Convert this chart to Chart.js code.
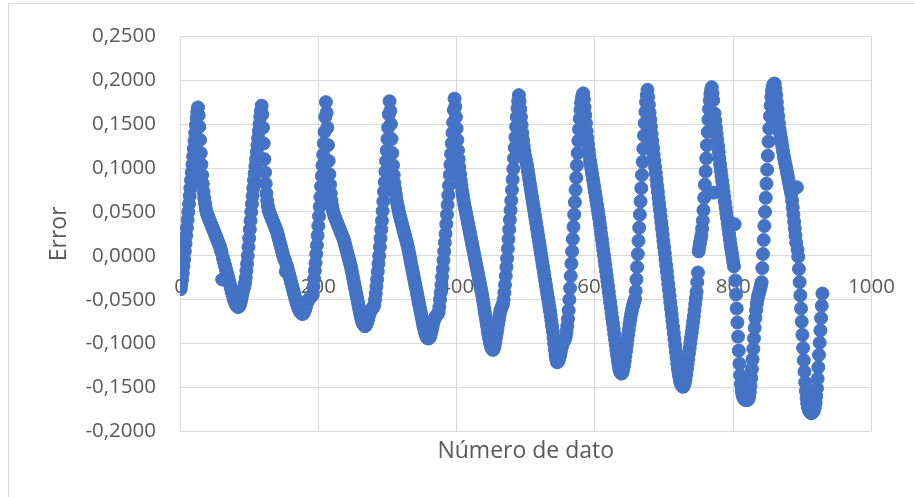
<!DOCTYPE html>
<html lang="es">
<head>
<meta charset="utf-8">
<title>Error por número de dato</title>
<script src="https://cdn.jsdelivr.net/npm/chart.js@4.4.1/dist/chart.umd.min.js"></script>
<style>
  html, body { margin: 0; padding: 0; background: #ffffff; }
  #frame { position: relative; width: 914px; height: 497px; overflow: hidden; background: #ffffff; }
  #border { position: absolute; left: 8px; top: 3px; width: 940px; height: 540px; border: 1px solid #d9d9d9; box-sizing: border-box; }
  #chart { position: absolute; left: 0; top: 0; }
</style>
</head>
<body>
<div id="frame">
  <div id="border"></div>
  <canvas id="chart" width="914" height="497"></canvas>
</div>
<script>
// Error of each data point, in order (data number 1, 2, 3, ...)
const errorValues = [
  -0.038,-0.033,-0.027,-0.020,-0.012,-0.004,0.005,0.014,0.023,0.032,
  0.041,0.050,0.059,0.068,0.077,0.086,0.095,0.104,0.113,0.122,
  0.131,0.140,0.149,0.157,0.164,0.169,
  0.160,0.147,0.132,0.117,0.104,0.092,0.082,0.073,0.066,0.060,
  0.055,0.051,0.048,0.046,0.044,0.042,0.040,0.038,0.036,0.034,
  0.032,0.030,0.028,0.026,0.024,0.022,0.020,0.018,0.016,0.014,
  0.012,0.010,0.007,0.004,-0.027,-0.002,-0.005,-0.008,-0.011,-0.014,
  -0.017,-0.020,-0.023,-0.026,-0.029,-0.032,-0.035,-0.038,-0.041,-0.044,
  -0.047,-0.050,-0.052,-0.054,-0.056,-0.057,-0.058,-0.058,
  -0.058,-0.057,-0.055,-0.052,-0.048,-0.044,-0.040,-0.037,-0.035,-0.031,
  -0.025,-0.017,-0.009,0.000,0.010,0.020,0.030,0.040,0.050,0.059,
  0.068,0.077,0.086,0.094,0.102,0.110,0.118,0.126,0.134,0.142,
  0.150,0.158,0.165,0.171,
  0.161,0.146,0.128,0.110,0.095,0.082,0.071,0.063,0.057,0.053,
  0.050,0.048,0.046,0.044,0.042,0.040,0.038,0.036,0.034,0.032,
  0.030,0.028,0.025,0.022,0.019,0.016,0.013,0.010,0.007,0.004,
  0.001,-0.002,-0.004,-0.006,-0.018,-0.010,-0.013,-0.016,-0.019,-0.022,
  -0.025,-0.028,-0.031,-0.034,-0.037,-0.040,-0.043,-0.046,-0.049,-0.052,
  -0.055,-0.057,-0.059,-0.061,-0.063,-0.064,-0.065,-0.066,-0.066,
  -0.066,-0.065,-0.063,-0.061,-0.058,-0.055,-0.053,-0.051,-0.050,-0.049,
  -0.048,-0.047,-0.046,-0.045,
  -0.044,-0.035,-0.026,-0.017,-0.008,0.002,0.012,0.023,0.034,0.045,
  0.056,0.067,0.079,0.091,0.103,0.115,0.128,0.141,0.158,0.175,
  0.163,0.146,0.126,0.108,0.093,0.081,0.071,0.063,0.057,0.052,
  0.049,0.046,0.044,0.042,0.040,0.038,0.036,0.034,0.032,0.030,
  0.028,0.026,0.024,0.022,0.020,0.018,0.015,0.012,0.009,0.006,
  0.003,0.000,-0.003,-0.006,-0.009,-0.012,-0.016,-0.020,-0.024,-0.028,
  -0.032,-0.036,-0.040,-0.044,-0.048,-0.052,-0.056,-0.060,-0.064,-0.068,
  -0.071,-0.074,-0.076,-0.078,-0.079,-0.080,
  -0.080,-0.079,-0.077,-0.075,-0.072,-0.069,-0.066,-0.064,-0.062,-0.061,
  -0.060,-0.059,-0.058,-0.056,-0.050,-0.043,-0.035,-0.027,-0.018,-0.009,
  0.000,0.010,0.020,0.030,0.040,0.051,0.062,0.073,0.084,0.096,
  0.108,0.120,0.133,0.146,0.161,0.176,
  0.165,0.150,0.133,0.117,0.103,0.092,0.083,0.076,0.070,0.065,
  0.060,0.056,0.052,0.048,0.045,0.042,0.039,0.036,0.033,0.030,
  0.027,0.024,0.021,0.018,0.015,0.012,0.008,0.004,0.000,-0.004,
  -0.008,-0.012,-0.016,-0.020,-0.024,-0.028,-0.032,-0.036,-0.040,-0.044,
  -0.048,-0.052,-0.056,-0.060,-0.064,-0.068,-0.072,-0.076,-0.080,-0.083,
  -0.086,-0.089,-0.091,-0.093,-0.094,-0.094,
  -0.094,-0.093,-0.091,-0.088,-0.085,-0.081,-0.077,-0.074,-0.072,-0.070,
  -0.069,-0.068,-0.067,-0.066,-0.064,-0.058,-0.050,-0.042,-0.033,-0.024,
  -0.015,-0.005,0.005,0.015,0.025,0.036,0.047,0.058,0.069,0.080,
  0.092,0.104,0.116,0.128,0.140,0.152,0.166,0.179,
  0.170,0.158,0.145,0.132,0.120,0.110,0.101,0.093,0.086,0.080,
  0.074,0.069,0.064,0.059,0.055,0.051,0.047,0.043,0.039,0.035,
  0.031,0.027,0.023,0.019,0.015,0.011,0.007,0.003,-0.001,-0.005,
  -0.009,-0.013,-0.017,-0.021,-0.025,-0.029,-0.033,-0.037,-0.041,-0.045,
  -0.050,-0.055,-0.060,-0.065,-0.070,-0.075,-0.080,-0.085,-0.090,-0.094,
  -0.098,-0.101,-0.104,-0.106,-0.107,
  -0.107,-0.105,-0.102,-0.098,-0.093,-0.088,-0.083,-0.078,-0.073,-0.068,
  -0.064,-0.061,-0.059,-0.057,-0.055,-0.050,-0.042,-0.033,-0.023,-0.013,
  -0.003,0.008,0.019,0.030,0.041,0.052,0.063,0.075,0.087,0.099,
  0.111,0.123,0.135,0.147,0.158,0.168,0.176,0.183,
  0.176,0.167,0.158,0.149,0.140,0.132,0.125,0.119,0.114,0.110,
  0.106,0.102,0.097,0.092,0.087,0.082,0.077,0.072,0.067,0.062,
  0.057,0.052,0.047,0.042,0.037,0.032,0.027,0.022,0.017,0.012,
  0.007,0.002,-0.003,-0.008,-0.013,-0.018,-0.023,-0.028,-0.033,-0.038,
  -0.043,-0.048,-0.053,-0.058,-0.063,-0.068,-0.074,-0.080,-0.086,-0.093,
  -0.100,-0.107,-0.113,-0.118,-0.121,
  -0.121,-0.120,-0.118,-0.115,-0.112,-0.108,-0.104,-0.101,-0.099,-0.097,
  -0.096,-0.094,-0.091,
  -0.086,-0.080,-0.072,-0.062,-0.050,-0.037,-0.023,-0.009,0.005,0.019,
  0.033,0.047,0.061,0.075,0.089,0.103,0.117,0.131,0.144,0.156,
  0.166,0.174,0.179,0.183,0.185,
  0.178,0.169,0.160,0.151,0.142,0.134,0.127,0.120,0.114,0.108,
  0.103,0.098,0.093,0.088,0.083,0.078,0.073,0.068,0.063,0.058,
  0.053,0.048,0.043,0.037,0.031,0.025,0.019,0.013,0.007,0.001,
  -0.005,-0.011,-0.017,-0.023,-0.029,-0.035,-0.041,-0.047,-0.053,-0.059,
  -0.065,-0.071,-0.077,-0.083,-0.089,-0.095,-0.101,-0.107,-0.113,-0.119,
  -0.124,-0.128,-0.131,-0.133,-0.134,
  -0.134,-0.132,-0.129,-0.125,-0.120,-0.114,-0.108,-0.102,-0.096,-0.090,
  -0.084,-0.078,-0.073,-0.068,-0.064,-0.060,-0.057,-0.054,-0.052,
  -0.049,-0.040,-0.027,-0.013,0.002,0.017,0.032,0.047,0.062,0.077,
  0.092,0.107,0.122,0.137,0.151,0.164,0.175,0.183,0.189,
  0.181,0.172,0.163,0.155,0.147,0.139,0.131,0.123,0.115,0.108,
  0.101,0.094,0.087,0.080,0.073,0.066,0.059,0.052,0.045,0.038,
  0.031,0.024,0.017,0.010,0.003,-0.004,-0.011,-0.018,-0.025,-0.032,
  -0.039,-0.046,-0.053,-0.060,-0.067,-0.074,-0.081,-0.088,-0.095,-0.102,
  -0.109,-0.116,-0.123,-0.129,-0.134,-0.138,-0.142,-0.145,-0.147,-0.148,
  -0.149,
  -0.149,-0.147,-0.144,-0.140,-0.135,-0.129,-0.123,-0.117,-0.111,-0.105,
  -0.099,-0.093,
  -0.087,-0.081,-0.075,-0.069,-0.062,-0.055,-0.048,-0.041,-0.030,-0.019,
  0.005,0.010,0.015,0.019,0.024,0.031,0.040,0.052,0.066,0.081,
  0.096,0.111,0.126,0.141,0.155,0.167,0.177,0.184,0.189,0.192,
  0.185,0.177,0.072,0.162,0.154,0.146,0.139,0.132,0.125,0.118,
  0.111,0.104,0.097,0.091,0.085,0.079,0.073,0.067,0.061,0.055,
  0.049,0.043,0.037,0.031,0.025,0.019,0.013,0.008,0.003,-0.002,
  -0.007,-0.012,0.036,
  -0.028,-0.044,-0.060,-0.076,-0.092,-0.108,-0.123,-0.136,-0.146,-0.153,
  -0.157,-0.160,-0.162,-0.163,-0.164,-0.164,-0.164,-0.164,-0.164,
  -0.163,-0.160,-0.155,-0.148,-0.139,-0.129,-0.118,-0.106,-0.094,-0.082,
  -0.071,-0.062,-0.055,-0.050,-0.046,-0.043,-0.040,-0.037,-0.034,
  -0.030,-0.014,0.002,0.018,0.034,0.050,0.066,0.082,0.098,0.114,
  0.130,0.145,0.159,0.171,0.181,0.188,0.192,0.195,0.196,0.196,
  0.190,0.183,0.175,0.167,0.159,0.151,0.144,0.139,0.134,0.129,
  0.124,0.119,0.114,0.110,0.106,0.102,0.098,0.094,0.090,0.086,
  0.082,0.078,0.074,0.070,
  0.063,0.055,0.047,0.039,0.031,0.023,0.015,0.078,0.007,-0.001,
  -0.015,-0.030,-0.045,-0.060,-0.075,-0.090,-0.105,-0.119,-0.132,-0.144,
  -0.154,-0.162,-0.168,-0.172,-0.175,-0.177,-0.178,-0.179,-0.179,-0.179,
  -0.178,-0.177,-0.175,-0.172,-0.167,-0.160,-0.151,-0.140,-0.127,-0.113,
  -0.099,-0.085,-0.071,-0.057,-0.043
];

// Axis ticks
const xTickValues = [0, 200, 400, 600, 800, 1000];
const yTickValues = [-0.20, -0.15, -0.10, -0.05, 0, 0.05, 0.10, 0.15, 0.20, 0.25];

const TEXT_COLOR = '#595959';
const GRID_COLOR = '#d9d9d9';
const MARKER_COLOR = '#4472c4';
const FONT_FAMILY = "'Open Sans', 'DejaVu Sans', sans-serif";

const points = errorValues.map((v, i) => ({ x: i + 1, y: v }));

const formatComma = (v) => {
  const n = Math.abs(v) < 1e-9 ? 0 : v;
  return n.toFixed(4).replace('.', ',');
};
const useTicks = (list) => (scale) => { scale.ticks = list.map((v) => ({ value: v })); };

new Chart(document.getElementById('chart'), {
  type: 'scatter',
  data: {
    datasets: [{
      label: 'Error',
      data: points,
      backgroundColor: MARKER_COLOR,
      borderColor: MARKER_COLOR,
      pointRadius: 6.5,
      pointHoverRadius: 6.5,
      pointBorderWidth: 1
    }]
  },
  options: {
    responsive: false,
    animation: false,
    devicePixelRatio: 1,
    events: [],
    layout: { padding: { left: 42, top: 33, right: 42, bottom: 0 } },
    plugins: {
      legend: { display: false },
      tooltip: { enabled: false },
      title: {
        display: true,
        text: 'Número de dato',
        position: 'bottom',
        fullSize: false,
        color: TEXT_COLOR,
        font: { family: FONT_FAMILY, size: 23, weight: 'normal' },
        padding: { top: 6, bottom: 32 }
      }
    },
    scales: {
      // labels of the horizontal axis, crossing at Error = 0, drawn above the markers
      x: {
        type: 'linear',
        position: { y: 0 },
        min: 0,
        max: 1000,
        z: 1,
        afterBuildTicks: useTicks(xTickValues),
        grid: { display: false, drawTicks: false },
        border: { display: false },
        ticks: {
          padding: 19,
          color: TEXT_COLOR,
          font: { family: FONT_FAMILY, size: 20.5 },
          maxRotation: 0,
          autoSkip: false,
          callback: (v) => String(v)
        }
      },
      // vertical gridlines, behind the markers
      xGrid: {
        type: 'linear',
        axis: 'x',
        position: 'bottom',
        min: 0,
        max: 1000,
        afterBuildTicks: useTicks(xTickValues),
        grid: { color: GRID_COLOR, lineWidth: 1, drawTicks: false },
        border: { display: false },
        ticks: { display: false }
      },
      y: {
        type: 'linear',
        position: 'left',
        min: -0.2,
        max: 0.25,
        afterBuildTicks: useTicks(yTickValues),
        afterFit: (scale) => { scale.width = 138; },
        grid: { color: GRID_COLOR, lineWidth: 1, drawTicks: false },
        border: { color: GRID_COLOR },
        ticks: {
          padding: 24,
          color: TEXT_COLOR,
          font: { family: FONT_FAMILY, size: 20.5 },
          callback: (v) => formatComma(v)
        },
        title: {
          display: true,
          text: 'Error',
          color: TEXT_COLOR,
          font: { family: FONT_FAMILY, size: 23 },
          padding: { top: 4, bottom: 4 }
        }
      }
    }
  }
});
</script>
</body>
</html>
